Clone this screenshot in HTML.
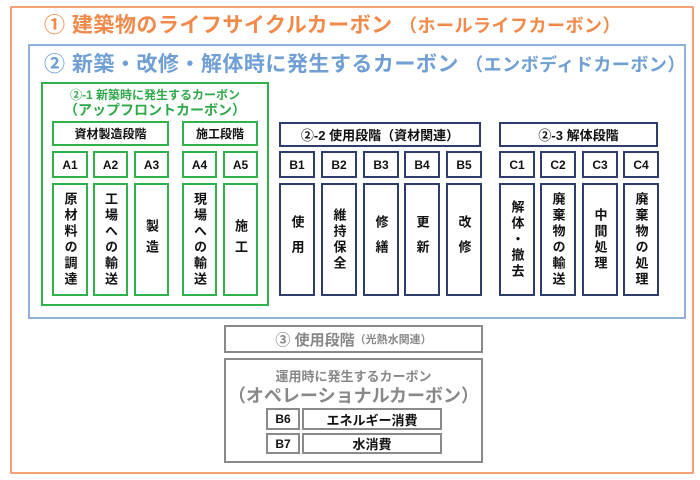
<!DOCTYPE html>
<html><head><meta charset="utf-8"><style>
body{margin:0;width:700px;height:480px;background:#fff;position:relative;overflow:hidden;font-family:"Liberation Sans","Noto Sans CJK JP",sans-serif;font-weight:bold}
.a{position:absolute;box-sizing:border-box}
.n{border:2px solid #2e3d6b;color:#111;display:flex;align-items:center;justify-content:center;font-size:12px}
.g{border-color:#2fb24c}
.v{writing-mode:vertical-rl;text-orientation:upright;font-size:13px;letter-spacing:3px}
.gr{border:2px solid #8a8a8a}
</style></head><body>
<div class="a" style="left:10px;top:6px;width:684px;height:468px;border:2px solid #f4a274"></div>
<div class="a" style="left:44px;top:9px;color:#f08a4b;font-size:21px;white-space:nowrap;letter-spacing:0.5px">① 建築物のライフサイクルカーボン <span style="font-size:18px;letter-spacing:0.5px">（ホールライフカーボン）</span></div>
<div class="a" style="left:28px;top:44px;width:658px;height:275px;border:2px solid #8fb2dc"></div>
<div class="a" style="left:44px;top:48px;color:#6f9fd4;font-size:21px;white-space:nowrap;letter-spacing:0.5px">② 新築・改修・解体時に発生するカーボン <span style="font-size:18px;letter-spacing:0.5px">（エンボディドカーボン）</span></div>
<div class="a" style="left:41px;top:82px;width:228px;height:224px;border:2px solid #2fb24c"></div>
<div class="a" style="left:41px;top:86px;width:228px;text-align:center;color:#2fa84a;font-size:12px">②-1 新築時に発生するカーボン</div>
<div class="a" style="left:41px;top:100px;width:228px;text-align:center;color:#2fa84a;font-size:14px">（アップフロントカーボン）</div>
<div class="a n g" style="left:52px;top:121px;width:117px;height:25px">資材製造段階</div>
<div class="a n g" style="left:182px;top:121px;width:76px;height:25px">施工段階</div>
<div class="a n g" style="left:52px;top:151px;width:36px;height:27px">A1</div>
<div class="a n g" style="left:93px;top:151px;width:35px;height:27px">A2</div>
<div class="a n g" style="left:134px;top:151px;width:35px;height:27px">A3</div>
<div class="a n g" style="left:182px;top:151px;width:35px;height:27px">A4</div>
<div class="a n g" style="left:223px;top:151px;width:35px;height:27px">A5</div>
<div class="a n g" style="left:52px;top:183px;width:36px;height:113px"><span class="v">原材料の調達</span></div>
<div class="a n g" style="left:93px;top:183px;width:35px;height:113px"><span class="v">工場への輸送</span></div>
<div class="a n g" style="left:134px;top:183px;width:35px;height:113px"><span class="v" style="letter-spacing:8px">製造</span></div>
<div class="a n g" style="left:182px;top:183px;width:35px;height:113px"><span class="v">現場への輸送</span></div>
<div class="a n g" style="left:223px;top:183px;width:35px;height:113px"><span class="v" style="letter-spacing:8px">施工</span></div>

<div class="a n" style="left:279px;top:122px;width:202px;height:25px;font-size:13px">②-2 使用段階（資材関連）</div>
<div class="a n" style="left:499px;top:122px;width:159px;height:25px;font-size:13px">②-3 解体段階</div>
<div class="a n" style="left:279px;top:151px;width:36px;height:27px">B1</div>
<div class="a n" style="left:321px;top:151px;width:36px;height:27px">B2</div>
<div class="a n" style="left:363px;top:151px;width:36px;height:27px">B3</div>
<div class="a n" style="left:404px;top:151px;width:36px;height:27px">B4</div>
<div class="a n" style="left:446px;top:151px;width:36px;height:27px">B5</div>
<div class="a n" style="left:499px;top:151px;width:36px;height:27px">C1</div>
<div class="a n" style="left:540px;top:151px;width:36px;height:27px">C2</div>
<div class="a n" style="left:582px;top:151px;width:36px;height:27px">C3</div>
<div class="a n" style="left:623px;top:151px;width:36px;height:27px">C4</div>
<div class="a n" style="left:279px;top:183px;width:36px;height:113px"><span class="v" style="letter-spacing:12px">使用</span></div>
<div class="a n" style="left:321px;top:183px;width:36px;height:113px"><span class="v">維持保全</span></div>
<div class="a n" style="left:363px;top:183px;width:36px;height:113px"><span class="v" style="letter-spacing:12px">修繕</span></div>
<div class="a n" style="left:404px;top:183px;width:36px;height:113px"><span class="v" style="letter-spacing:12px">更新</span></div>
<div class="a n" style="left:446px;top:183px;width:36px;height:113px"><span class="v" style="letter-spacing:12px">改修</span></div>
<div class="a n" style="left:499px;top:183px;width:36px;height:113px"><span class="v">解体・撤去</span></div>
<div class="a n" style="left:540px;top:183px;width:36px;height:113px"><span class="v">廃棄物の輸送</span></div>
<div class="a n" style="left:582px;top:183px;width:36px;height:113px"><span class="v">中間処理</span></div>
<div class="a n" style="left:623px;top:183px;width:36px;height:113px"><span class="v">廃棄物の処理</span></div>

<div class="a gr" style="left:224px;top:325px;width:259px;height:28px;color:#888;font-size:15px;display:flex;align-items:center;justify-content:center">③ 使用段階<span style="font-size:11px">（光熱水関連）</span></div>
<div class="a gr" style="left:224px;top:358px;width:259px;height:105px"></div>
<div class="a" style="left:224px;top:366px;width:259px;text-align:center;color:#888;font-size:13px">運用時に発生するカーボン</div>
<div class="a" style="left:224px;top:382px;width:259px;text-align:center;color:#888;font-size:18px;white-space:nowrap">（オペレーショナルカーボン）</div>
<div class="a n gr" style="left:266px;top:408px;width:34px;height:22px">B6</div>
<div class="a n gr" style="left:302px;top:408px;width:140px;height:22px;font-size:13px">エネルギー消費</div>
<div class="a n gr" style="left:266px;top:433px;width:34px;height:21px">B7</div>
<div class="a n gr" style="left:302px;top:433px;width:140px;height:21px;font-size:13px">水消費</div>
</body></html>
